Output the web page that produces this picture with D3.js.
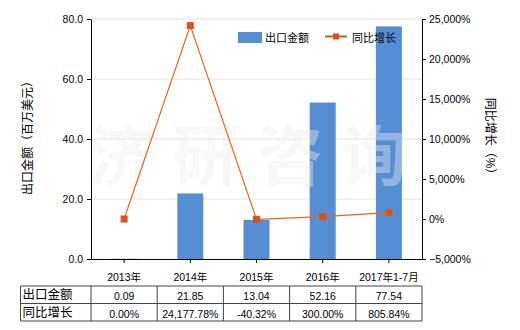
<!DOCTYPE html>
<html><head><meta charset="utf-8">
<script src="https://cdn.jsdelivr.net/npm/d3@7"></script>
<style>body{margin:0;background:#fff}text{font-family:"Liberation Sans","Noto Sans CJK SC",sans-serif}</style>
</head><body>
<svg id="c" width="520" height="330"></svg>
<script>
const categories = ["2013年","2014年","2015年","2016年","2017年1-7月"];
const exportValues = [0.09,21.85,13.04,52.16,77.54];
const growthValues = [0,24177.78,-40.32,300,805.84];
const exportLabels = ["0.09","21.85","13.04","52.16","77.54"];
const growthLabels = ["0.00%","24,177.78%","-40.32%","300.00%","805.84%"];
const leftTicks = [0,20,40,60,80];
const rightTicks = [-5000,0,5000,10000,15000,20000,25000];
const rowNames = ["出口金额","同比增长"];

const FONT = '"Liberation Sans","Noto Sans CJK SC",sans-serif';
const svg = d3.select("#c");
const L=91, R=422, T=19, B=259;
const x = d3.scaleBand().domain(categories).range([L,R]);
const yL = d3.scaleLinear().domain([0,80]).range([B,T]);
const yR = d3.scaleLinear().domain([-5000,25000]).range([B,T]);
const fs = "10.5px";
const barColor="#558ED5", lineColor="#E8671E", markColor="#D9531E";

// grid
svg.append("g").selectAll("line").data(leftTicks.filter(d=>d>0)).join("line")
  .attr("x1",L).attr("x2",R).attr("y1",d=>yL(d)).attr("y2",d=>yL(d))
  .attr("stroke","#e4e4e4").attr("stroke-width",1);

// bars
const bw=26;
svg.append("g").selectAll("rect").data(exportValues).join("rect")
  .attr("x",(d,i)=>x(categories[i])+x.bandwidth()/2-bw/2).attr("width",bw)
  .attr("y",d=>yL(d)).attr("height",d=>yL(0)-yL(d)).attr("fill",barColor);

// watermark (overlay)
svg.append("text").attr("x",257).attr("y",180).attr("text-anchor","middle")
  .attr("font-size","66px").attr("font-weight","bold").attr("fill","#eeeeee").attr("fill-opacity",0.4)
  .attr("letter-spacing","18px").style("font-family",'"Noto Sans CJK SC",sans-serif')
  .text("济研咨询");

// line
const line = d3.line().x((d,i)=>x(categories[i])+x.bandwidth()/2).y(d=>yR(d));
svg.append("path").datum(growthValues).attr("d",line).attr("fill","none")
  .attr("stroke",lineColor).attr("stroke-width",1.2);
svg.append("g").selectAll("rect").data(growthValues).join("rect")
  .attr("x",(d,i)=>x(categories[i])+x.bandwidth()/2-3.5).attr("y",d=>yR(d)-3.5)
  .attr("width",7).attr("height",7).attr("fill",markColor);

// axes
const gL = svg.append("g").attr("transform",`translate(${L},0)`)
  .call(d3.axisLeft(yL).tickValues(leftTicks).tickFormat(d3.format(".1f")).tickSize(4).tickSizeOuter(0));
const gR = svg.append("g").attr("transform",`translate(${R},0)`)
  .call(d3.axisRight(yR).tickValues(rightTicks).tickFormat(d=>d3.format(",")(d)+"%").tickSize(4).tickSizeOuter(0));
const gB = svg.append("g").attr("transform",`translate(0,${B})`)
  .call(d3.axisBottom(x).tickSize(4).tickSizeOuter(0));
[gL,gR,gB].forEach(g=>{
  g.selectAll("text").attr("font-size",fs).attr("fill","#000").style("font-family",FONT);
  g.select(".domain").attr("stroke","#000");
  g.selectAll(".tick line").attr("stroke","#000");
});
gB.selectAll("text").attr("dy","1.4em");
gL.selectAll("text").attr("dx","-1");
gR.selectAll("text").attr("dx","0");

// axis titles
svg.append("text").attr("transform","translate(32,135) rotate(-90)").attr("text-anchor","middle")
  .attr("font-size","12px").text("出口金额（百万美元）");
svg.append("text").attr("transform","translate(486,139) rotate(90)").attr("text-anchor","middle")
  .attr("font-size","12px").text("同比增长（%）");

// legend
svg.append("rect").attr("x",238).attr("y",32).attr("width",24).attr("height",11).attr("fill",barColor);
svg.append("text").attr("x",265).attr("y",42).attr("font-size","11px").text("出口金额");
svg.append("line").attr("x1",325).attr("x2",347).attr("y1",36.5).attr("y2",36.5).attr("stroke",markColor).attr("stroke-width",2);
svg.append("rect").attr("x",333).attr("y",33.5).attr("width",6).attr("height",6).attr("fill",markColor);
svg.append("text").attr("x",352).attr("y",42).attr("font-size","11px").text("同比增长");

// table
const tT=286, rh=17.5, tL=20.5;
const tbl = svg.append("g");
const rows=[exportLabels,growthLabels];
rows.forEach((r,ri)=>{
  const y0=tT+ri*rh;
  tbl.append("text").attr("x",tL+2).attr("y",y0+13).attr("font-size","12.5px").text(rowNames[ri]);
  r.forEach((v,i)=>{
    tbl.append("text").attr("x",x(categories[i])+x.bandwidth()/2).attr("y",y0+14).attr("text-anchor","middle").attr("font-size",fs).text(v);
  });
});
const stroke="#444";
[0,1,2].forEach(k=>tbl.append("line").attr("x1",tL).attr("x2",R).attr("y1",tT+k*rh).attr("y2",tT+k*rh).attr("stroke",stroke));
const vx=[tL].concat(categories.map(c=>x(c))).concat([R]);
vx.forEach(v=>tbl.append("line").attr("x1",v).attr("x2",v).attr("y1",tT).attr("y2",tT+2*rh).attr("stroke",stroke));
</script>
</body></html>
